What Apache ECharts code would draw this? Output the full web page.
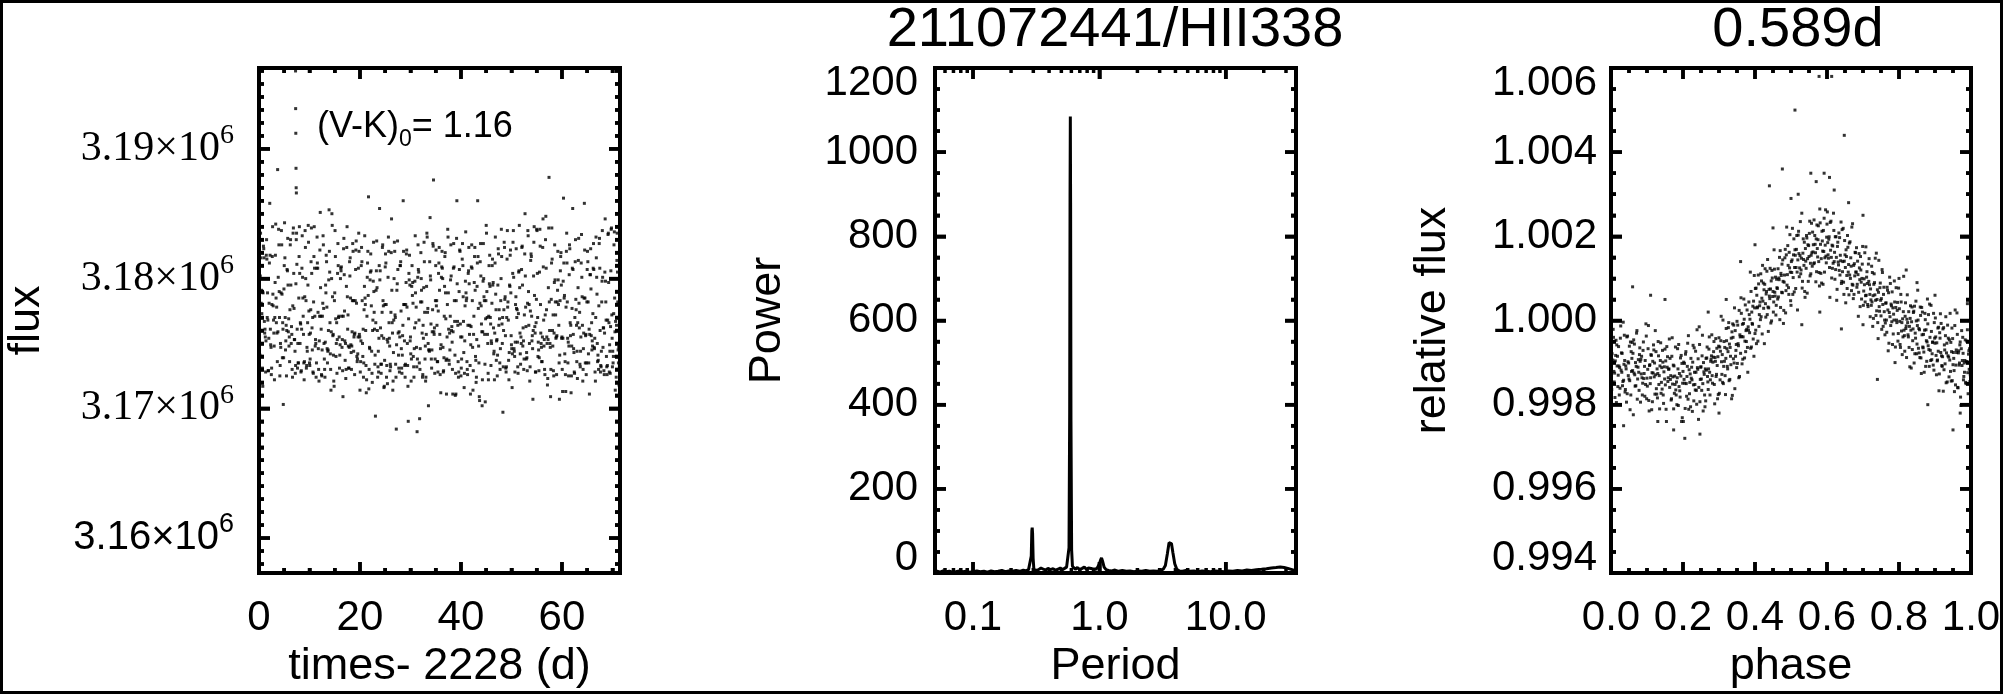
<!DOCTYPE html>
<html>
<head>
<meta charset="utf-8">
<script src="https://cdn.jsdelivr.net/npm/echarts@6/dist/echarts.min.js"></script>
<style>
html,body{margin:0;padding:0;background:#fff;}
#wrap{position:relative;width:2005px;height:694px;}
#chart{position:absolute;left:0;top:0;width:2005px;height:694px;}
#frame{position:absolute;left:0;top:0;width:1997px;height:688px;border:3px solid #000;pointer-events:none;}
</style>
</head>
<body>
<div id="wrap"><div id="chart"></div><div id="frame"></div></div>
<script>
// ---------------- DATA ----------------
const TITLE_MAIN = '211072441/HII338';
const TITLE_PERIOD = '0.589d';
const VK_VALUE = '1.16';

// Panel 1: light curve. time (d, minus 2228) and flux as (flux - 3 170 000)/100
const LC_FLUX_ZERO = 3170000;
const LC_FLUX_UNIT = 100;
const LC_TIME = [
0.06,0.19,0.31,0.44,0.56,0.69,0.81,0.94, 1.06,1.19,1.31,1.44,1.56,1.69,1.81,1.94,
2.06,2.19,2.31,2.44,2.56,2.69,2.81,2.94, 3.06,3.19,3.31,3.44,3.56,3.69,3.81,3.94,
4.06,4.19,4.31,4.44,4.56,4.69,4.81,4.94, 5.06,5.19,5.31,5.44,5.56,5.69,5.81,5.94,
6.06,6.19,6.31,6.44,6.56,6.69,6.81,6.94, 7.06,7.19,7.31,7.44,7.56,7.69,7.81,7.94,
8.06,8.19,8.31,8.44,8.56,8.69,8.81,8.94, 9.06,9.19,9.31,9.44,9.56,9.69,9.81,9.94,
10.06,10.19,10.31,10.44,10.56,10.69,10.81,10.94, 11.06,11.19,11.31,11.44,11.56,11.69,11.81,11.94,
12.06,12.19,12.31,12.44,12.56,12.69,12.81,12.94, 13.06,13.19,13.31,13.44,13.56,13.69,13.81,13.94,
14.06,14.19,14.31,14.44,14.56,14.69,14.81,14.94, 15.06,15.19,15.31,15.44,15.56,15.69,15.81,15.94,
16.06,16.19,16.31,16.44,16.56,16.69,16.81,16.94, 17.06,17.19,17.31,17.44,17.56,17.69,17.81,17.94,
18.06,18.19,18.31,18.44,18.56,18.69,18.81,18.94, 19.06,19.19,19.31,19.44,19.56,19.69,19.81,19.94,
20.06,20.19,20.31,20.44,20.56,20.69,20.81,20.94, 21.06,21.19,21.31,21.44,21.56,21.69,21.81,21.94,
22.06,22.19,22.31,22.44,22.56,22.69,22.81,22.94, 23.06,23.19,23.31,23.44,23.56,23.69,23.81,23.94,
24.06,24.19,24.31,24.44,24.56,24.69,24.81,24.94, 25.06,25.19,25.31,25.44,25.56,25.69,25.81,25.94,
26.06,26.19,26.31,26.44,26.56,26.69,26.81,26.94, 27.06,27.19,27.31,27.44,27.56,27.69,27.81,27.94,
28.06,28.19,28.31,28.44,28.56,28.69,28.81,28.94, 29.06,29.19,29.31,29.44,29.56,29.69,29.81,29.94,
30.06,30.19,30.31,30.44,30.56,30.69,30.81,30.94, 31.06,31.19,31.31,31.44,31.56,31.69,31.81,31.94,
32.06,32.19,32.31,32.44,32.56,32.69,32.81,32.94, 33.06,33.19,33.31,33.44,33.56,33.69,33.81,33.94,
34.06,34.19,34.31,34.44,34.56,34.69,34.81,34.94, 35.06,35.19,35.31,35.44,35.56,35.69,35.81,35.94,
36.06,36.19,36.31,36.44,36.56,36.69,36.81,36.94, 37.06,37.19,37.31,37.44,37.56,37.69,37.81,37.94,
38.06,38.19,38.31,38.44,38.56,38.69,38.81,38.94, 39.06,39.19,39.31,39.44,39.56,39.69,39.81,39.94,
40.06,40.19,40.31,40.44,40.56,40.69,40.81,40.94, 41.06,41.19,41.31,41.44,41.56,41.69,41.81,41.94,
42.06,42.19,42.31,42.44,42.56,42.69,42.81,42.94, 43.06,43.19,43.31,43.44,43.56,43.69,43.81,43.94,
44.06,44.19,44.31,44.44,44.56,44.69,44.81,44.94, 45.06,45.19,45.31,45.44,45.56,45.69,45.81,45.94,
46.06,46.19,46.31,46.44,46.56,46.69,46.81,46.94, 47.06,47.19,47.31,47.44,47.56,47.69,47.81,47.94,
48.06,48.19,48.31,48.44,48.56,48.69,48.81,48.94, 49.06,49.19,49.31,49.44,49.56,49.69,49.81,49.94,
50.06,50.19,50.31,50.44,50.56,50.69,50.81,50.94, 51.06,51.19,51.31,51.44,51.56,51.69,51.81,51.94,
52.06,52.19,52.31,52.44,52.56,52.69,52.81,52.94, 53.06,53.19,53.31,53.44,53.56,53.69,53.81,53.94,
54.06,54.19,54.31,54.44,54.56,54.69,54.81,54.94, 55.06,55.19,55.31,55.44,55.56,55.69,55.81,55.94,
56.06,56.19,56.31,56.44,56.56,56.69,56.81,56.94, 57.06,57.19,57.31,57.44,57.56,57.69,57.81,57.94,
58.06,58.19,58.31,58.44,58.56,58.69,58.81,58.94, 59.06,59.19,59.31,59.44,59.56,59.69,59.81,59.94,
60.06,60.19,60.31,60.44,60.56,60.69,60.81,60.94, 61.06,61.19,61.31,61.44,61.56,61.69,61.81,61.94,
62.06,62.19,62.31,62.44,62.56,62.69,62.81,62.94, 63.06,63.19,63.31,63.44,63.56,63.69,63.81,63.94,
64.06,64.19,64.31,64.44,64.56,64.69,64.81,64.94, 65.06,65.19,65.31,65.44,65.56,65.69,65.81,65.94,
66.06,66.19,66.31,66.44,66.56,66.69,66.81,66.94, 67.06,67.19,67.31,67.44,67.56,67.69,67.81,67.94,
68.06,68.19,68.31,68.44,68.56,68.69,68.81,68.94, 69.06,69.19,69.31,69.44,69.56,69.69,69.81,69.94,
70.06,70.19,70.31,70.44,70.56,70.69,70.81,70.94, 71.06,71.19,71.31,71.44,
7.24,7.26,7.29,7.33,7.36,7.40,
0.00,0.13,0.25,0.38,0.50,0.63,0.75,0.88, 1.00,1.13,1.25,1.38,1.50,1.63,1.75,1.88,
2.00,2.13,2.25,2.38,2.50,2.63,2.75,2.88, 3.00,3.13,3.25,3.38,3.50,3.63,3.75,3.88,
4.00,4.13,4.25,4.38,4.50,4.63,4.75,4.88, 5.00,5.13,5.25,5.38,5.50,5.63,5.75,5.88,
6.00,6.13,6.25,6.38,6.50,6.63,6.75,6.88, 7.00,7.13,7.25,7.38,7.50,7.63,7.75,7.88,
8.00,8.13,8.25,8.38,8.50,8.63,8.75,8.88, 9.00,9.13,9.25,9.38,9.50,9.63,9.75,9.88,
10.00,10.13,10.25,10.38,10.50,10.63,10.75,10.88, 11.00,11.13,11.25,11.38,11.50,11.63,11.75,11.88,
12.00,12.13,12.25,12.38,12.50,12.63,12.75,12.88, 13.00,13.13,13.25,13.38,13.50,13.63,13.75,13.88,
14.00,14.13,14.25,14.38,14.50,14.63,14.75,14.88, 15.00,15.13,15.25,15.38,15.50,15.63,15.75,15.88,
16.00,16.13,16.25,16.38,16.50,16.63,16.75,16.88, 17.00,17.13,17.25,17.38,17.50,17.63,17.75,17.88,
18.00,18.13,18.25,18.38,18.50,18.63,18.75,18.88, 19.00,19.13,19.25,19.38,19.50,19.63,19.75,19.88,
20.00,20.13,20.25,20.38,20.50,20.63,20.75,20.88, 21.00,21.13,21.25,21.38,21.50,21.63,21.75,21.88,
22.00,22.13,22.25,22.38,22.50,22.63,22.75,22.88, 23.00,23.13,23.25,23.38,23.50,23.63,23.75,23.88,
24.00,24.13,24.25,24.38,24.50,24.63,24.75,24.88, 25.00,25.13,25.25,25.38,25.50,25.63,25.75,25.88,
26.00,26.13,26.25,26.38,26.50,26.63,26.75,26.88, 27.00,27.13,27.25,27.38,27.50,27.63,27.75,27.88,
28.00,28.13,28.25,28.38,28.50,28.63,28.75,28.88, 29.00,29.13,29.25,29.38,29.50,29.63,29.75,29.88,
30.00,30.13,30.25,30.38,30.50,30.63,30.75,30.88, 31.00,31.13,31.25,31.38,31.50,31.63,31.75,31.88,
32.00,32.13,32.25,32.38,32.50,32.63,32.75,32.88, 33.00,33.13,33.25,33.38,33.50,33.63,33.75,33.88,
34.00,34.13,34.25,34.38,34.50,34.63,34.75,34.88, 35.00,35.13,35.25,35.38,35.50,35.63,35.75,35.88,
36.00,36.13,36.25,36.38,36.50,36.63,36.75,36.88, 37.00,37.13,37.25,37.38,37.50,37.63,37.75,37.88,
38.00,38.13,38.25,38.38,38.50,38.63,38.75,38.88, 39.00,39.13,39.25,39.38,39.50,39.63,39.75,39.88,
40.00,40.13,40.25,40.38,40.50,40.63,40.75,40.88, 41.00,41.13,41.25,41.38,41.50,41.63,41.75,41.88,
42.00,42.13,42.25,42.38,42.50,42.63,42.75,42.88, 43.00,43.13,43.25,43.38,43.50,43.63,43.75,43.88,
44.00,44.13,44.25,44.38,44.50,44.63,44.75,44.88, 45.00,45.13,45.25,45.38,45.50,45.63,45.75,45.88,
46.00,46.13,46.25,46.38,46.50,46.63,46.75,46.88, 47.00,47.13,47.25,47.38,47.50,47.63,47.75,47.88,
48.00,48.13,48.25,48.38,48.50,48.63,48.75,48.88, 49.00,49.13,49.25,49.38,49.50,49.63,49.75,49.88,
50.00,50.13,50.25,50.38,50.50,50.63,50.75,50.88, 51.00,51.13,51.25,51.38,51.50,51.63,51.75,51.88,
52.00,52.13,52.25,52.38,52.50,52.63,52.75,52.88, 53.00,53.13,53.25,53.38,53.50,53.63,53.75,53.88,
54.00,54.13,54.25,54.38,54.50,54.63,54.75,54.88, 55.00,55.13,55.25,55.38,55.50,55.63,55.75,55.88,
56.00,56.13,56.25,56.38,56.50,56.63,56.75,56.88, 57.00,57.13,57.25,57.38,57.50,57.63,57.75,57.88,
58.00,58.13,58.25,58.38,58.50,58.63,58.75,58.88, 59.00,59.13,59.25,59.38,59.50,59.63,59.75,59.88,
60.00,60.13,60.25,60.38,60.50,60.63,60.75,60.88, 61.00,61.13,61.25,61.38,61.50,61.63,61.75,61.88,
62.00,62.13,62.25,62.38,62.50,62.63,62.75,62.88, 63.00,63.13,63.25,63.38,63.50,63.63,63.75,63.88,
64.00,64.13,64.25,64.38,64.50,64.63,64.75,64.88, 65.00,65.13,65.25,65.38,65.50,65.63,65.75,65.88,
66.00,66.13,66.25,66.38,66.50,66.63,66.75,66.88, 67.00,67.13,67.25,67.38,67.50,67.63,67.75,67.88,
68.00,68.13,68.25,68.38,68.50,68.63,68.75,68.88, 69.00,69.13,69.25,69.38,69.50,69.63,69.75,69.88,
70.00,70.13,70.25,70.38,70.50,70.63,70.75,70.88, 71.00,71.13,71.25,71.38
];
const LC_FLUX = [
49,41,135,81,73,31,89,123, 67,61,28,118,115,89,29,54,
112,118,49,26,80,140,79,58, 22,97,142,66,58,184,101,126,
70,33,47,137,88,66,3,92, 143,70,52,25,107,131,59,48,
36,126,95,63,30,79,139,77, 53,27,96,135,61,50,35,117,
104,66,28,61,133,85,57,22, 86,124,83,33,44,95,128,57,
33,58,113,104,45,28,82,140, 71,53,24,108,112,74,30,52,
122,93,61,25,71,133,77,38, 24,95,118,78,35,45,99,121,
66,30,59,150,86,57,21,83, 137,69,50,27,104,110,71,31,
49,108,109,47,29,71,131,75, 37,23,94,140,61,48,31,113,
116,49,30,59,127,83,55,26, 83,122,81,36,42,108,121,55,
28,52,124,83,40,24,76,133, 80,33,22,101,121,163,30,46,
105,106,44,20,68,128,74,34, -6,91,129,60,32,28,110,99,
62,27,56,124,83,54,17,80, 119,80,33,19,101,121,54,29,
32,120,91,58,21,68,128,72, 34,-16,91,129,58,31,28,110,
113,46,27,56,160,80,52,24, 80,119,78,33,-10,104,118,52,
42,38,110,97,40,24,62,133, 66,47,-18,101,107,68,-8,46,
120,91,58,26,54,128,74,48, 24,94,132,77,2,45,113,102,
65,31,59,127,176,57,27,83, 122,83,36,28,104,124,57,46,
49,109,108,47,29,71,117,89, 37,38,80,132,61,34,45,99,
102,63,30,59,127,83,41,27, 83,160,67,36,28,107,121,55,
31,55,127,86,43,27,79,136, 83,36,26,104,124,57,33,49,
109,108,47,29,71,117,91,37, 24,94,160,77,35,6,113,102,
65,2,59,127,86,57,5,83, 135,70,50,22,110,118,70,33,
50,110,95,62,44,58,132,76, 52,25,95,119,76,35,46,100,
117,50,-3,60,128,84,56,28, 70,137,82,37,43,94,122,56,
46,42,128,101,44,28,80,123, 70,51,27,105,141,58,34,50,
124,95,62,30,72,150,78,38, 39,81,133,64,50,32,114,117,
52,46,60,128,87,58,28,84, 137,70,51,29,105,125,58,47,
36,124,109,48,30,72,148,76, 50,23,93,178,60,47,30,112,
115,48,29,58,126,82,54,26, 82,121,80,35,41,106,120,54,
30,54,162,85,42,26,78,135, 82,35,25,103,123,56,12,48,
108,107,46,28,70,130,76,36, 23,93,131,62,34,44,112,101,
64,30,58,158,85,56,26,82, 121,82,35,11,103,123,56,45,
48,108,107,46,28,70,116,88, 36,37,79,131,60,33,44,98,
101,62,29,58,146,82,40,26, 68,135,66,49,27,106,139,54,
44,40,126,85,14,40,64,135, 82,35,18,103,
260,231,212,185,170,166,
59,17,102,116,91,40,17,125, 116,58,55,52,130,70,68,29,
81,158,61,47,31,117,88,68, 48,70,118,85,78,36,59,138,
90,25,50,89,126,39,61,39, 110,116,45,64,60,106,95,69,
55,76,130,50,57,24,135,104, 53,44,33,130,111,31,35,85,
140,50,65,29,108,101,71,35, 36,137,100,31,47,66,141,75,
35,38,76,139,62,70,27,117, 108,48,50,35,132,108,46,21,
71,151,71,26,45,81,126,50, 30,51,89,113,46,44,60,153,
105,42,14,100,141,56,41,17, 89,117,40,66,53,127,70,55,
41,100,106,71,53,9,123,103, 52,50,30,124,86,72,31,47,
102,85,43,48,83,121,44,57, 58,107,129,40,38,55,135,57,
14,36,110,113,50,61,35,94, 85,60,12,71,112,87,15,47,
99,119,79,27,60,98,90,61, 41,66,106,93,24,44,54,154,
106,34,34,74,126,79,16,37, 109,112,24,53,51,132,66,48,
34,74,146,66,14,43,100,121, 70,24,49,96,107,41,59,55,
110,75,31,41,64,121,80,33, 34,97,122,50,17,69,99,95,
55,21,94,87,81,32,46,98, 89,78,32,38,126,105,35,30,
82,100,82,24,64,93,113,38, 21,57,135,74,50,45,44,147,
99,38,45,76,125,59,62,38, 110,79,64,36,75,112,91,26,
12,101,121,100,28,39,94,120, 69,11,55,138,89,37,58,71,
126,60,51,11,108,109,67,10, 11,131,96,64,24,90,122,65,
25,38,115,110,67,16,52,98, 89,85,30,64,106,96,64,11,
63,126,83,14,57,97,124,40, 20,53,112,117,48,9,81,127,
79,59,22,98,100,83,34,69, 141,90,57,27,71,96,94,65,
52,81,115,97,42,22,112,88, 37,53,41,123,64,69,30,83,
138,65,70,32,76,124,86,31, 32,115,78,68,22,95,118,89,
49,16,104,137,46,40,51,86, 77,76,32,73,106,93,42,55,
107,125,48,52,38,119,102,63, 43,29,137,90,80,21,75,119,
71,56,7,102,140,63,28,66, 138,104,40,45,39,138,80,50,
36,55,146,68,53,26,130,108, 55,18,53,139,82,50,9,84,
139,60,72,25,97,99,72,55, 56,91,99,64,7,83,117,95,
55,13,98,112,87,36,13,121, 112,54,51,48,126,66,64,25,
77,154,57,43,27,113,84,64, 44,66,114,81,74,32,55,134,
86,21,46,85,122,35,57,35, 107,113,42,61,57,103,92,66,
52,73,127,47,54,21,132,101, 50,41,30,127,108,28,32,82,
137,47,62,26,105,98,68,32, 33,134,97,28,44,63,138,72,
32,35,73,136,59,67,24,114, 105,45,47,32
];

// Panel 2: periodogram (period in days, power)
const PERIOD = [
0.050,0.052,0.055,0.058,0.061,0.065,0.069,0.073,0.078,0.083,0.088,0.094,0.100,0.107,0.114,0.122,
0.130,0.139,0.148,0.158,0.169,0.180,0.192,0.205,0.219,0.234,0.250,0.262,0.275,0.284,0.289,0.292,
0.294,0.296,0.299,0.303,0.315,0.330,0.345,0.360,0.375,0.392,0.410,0.430,0.450,0.470,0.490,0.510,
0.530,0.550,0.565,0.575,0.582,0.586,0.589,0.592,0.596,0.603,0.612,0.625,0.645,0.670,0.700,0.730,
0.760,0.790,0.820,0.850,0.880,0.910,0.940,0.970,1.000,1.020,1.040,1.060,1.090,1.130,1.180,1.250,
1.330,1.420,1.520,1.630,1.750,1.880,2.020,2.170,2.330,2.500,2.680,2.880,3.050,3.200,3.330,3.450,
3.560,3.640,3.720,3.820,3.950,4.100,4.300,4.550,4.850,5.200,5.600,6.000,6.500,7.000,7.600,8.200,
8.900,9.700,10.50,11.40,12.40,13.50,14.70,16.00,17.50,19.20,21.00,23.00,25.00,27.00,29.00,31.00,
33.50,36.00
];
const POWER = [
3,4,2,5,3,4,2,3,5,3,4,2,3,5,3,4,
2,5,3,4,6,3,5,4,6,4,7,5,8,10,40,100,
108,95,35,9,6,8,12,9,7,11,8,10,7,9,12,8,
11,14,18,60,380,900,1085,880,360,55,16,12,9,13,8,11,
14,9,12,8,10,13,9,14,22,30,36,28,14,8,6,5,
7,4,6,4,5,3,5,4,6,4,5,4,6,9,18,45,
72,76,70,48,22,9,5,4,6,4,5,3,5,4,3,5,
4,3,5,4,6,5,7,6,8,9,10,12,13,14,13,11,
8,5
];

// Panel 3: phased light curve. phase and (relative flux - 1) in units of 1e-4
const PHASE = [
0.001,0.004,0.005,0.007,0.010,0.011,0.013,0.016,0.017,0.019,
0.021,0.024,0.025,0.027,0.030,0.031,0.033,0.036,0.037,0.039,
0.041,0.044,0.045,0.047,0.050,0.051,0.053,0.056,0.057,0.059,
0.061,0.064,0.065,0.067,0.070,0.071,0.073,0.076,0.077,0.079,
0.081,0.084,0.085,0.087,0.090,0.091,0.093,0.096,0.097,0.099,
0.101,0.104,0.105,0.107,0.110,0.111,0.113,0.116,0.117,0.119,
0.121,0.124,0.125,0.127,0.130,0.131,0.133,0.136,0.137,0.139,
0.141,0.144,0.145,0.147,0.150,0.151,0.153,0.156,0.157,0.159,
0.161,0.164,0.165,0.167,0.170,0.171,0.173,0.176,0.177,0.179,
0.181,0.184,0.185,0.187,0.190,0.191,0.193,0.196,0.197,0.199,
0.201,0.204,0.205,0.207,0.210,0.211,0.213,0.216,0.217,0.219,
0.221,0.224,0.225,0.227,0.230,0.231,0.233,0.236,0.237,0.239,
0.241,0.244,0.245,0.247,0.250,0.251,0.253,0.256,0.257,0.259,
0.261,0.264,0.265,0.267,0.270,0.271,0.273,0.276,0.277,0.279,
0.281,0.284,0.285,0.287,0.290,0.291,0.293,0.296,0.297,0.299,
0.301,0.304,0.305,0.307,0.310,0.311,0.313,0.316,0.317,0.319,
0.321,0.324,0.325,0.327,0.330,0.331,0.333,0.336,0.337,0.339,
0.341,0.344,0.345,0.347,0.350,0.351,0.353,0.356,0.357,0.359,
0.361,0.364,0.365,0.367,0.370,0.371,0.373,0.376,0.377,0.379,
0.381,0.384,0.385,0.387,0.390,0.391,0.393,0.396,0.397,0.399,
0.401,0.404,0.405,0.407,0.410,0.411,0.413,0.416,0.417,0.419,
0.421,0.424,0.425,0.427,0.430,0.431,0.433,0.436,0.437,0.439,
0.441,0.444,0.445,0.447,0.450,0.451,0.453,0.456,0.457,0.459,
0.461,0.464,0.465,0.467,0.470,0.471,0.473,0.476,0.477,0.479,
0.481,0.484,0.485,0.487,0.490,0.491,0.493,0.496,0.497,0.499,
0.501,0.504,0.505,0.507,0.510,0.511,0.513,0.516,0.517,0.519,
0.521,0.524,0.525,0.527,0.530,0.531,0.533,0.536,0.537,0.539,
0.541,0.544,0.545,0.547,0.550,0.551,0.553,0.556,0.557,0.559,
0.561,0.564,0.565,0.567,0.570,0.571,0.573,0.576,0.577,0.579,
0.581,0.584,0.585,0.587,0.590,0.591,0.593,0.596,0.597,0.599,
0.601,0.604,0.605,0.607,0.610,0.611,0.613,0.616,0.617,0.619,
0.621,0.624,0.625,0.627,0.630,0.631,0.633,0.636,0.637,0.639,
0.641,0.644,0.645,0.647,0.650,0.651,0.653,0.656,0.657,0.659,
0.661,0.664,0.665,0.667,0.670,0.671,0.673,0.676,0.677,0.679,
0.681,0.684,0.685,0.687,0.690,0.691,0.693,0.696,0.697,0.699,
0.701,0.704,0.705,0.707,0.710,0.711,0.713,0.716,0.717,0.719,
0.721,0.724,0.725,0.727,0.730,0.731,0.733,0.736,0.737,0.739,
0.741,0.744,0.745,0.747,0.750,0.751,0.753,0.756,0.757,0.759,
0.761,0.764,0.765,0.767,0.770,0.771,0.773,0.776,0.777,0.779,
0.781,0.784,0.785,0.787,0.790,0.791,0.793,0.796,0.797,0.799,
0.801,0.804,0.805,0.807,0.810,0.811,0.813,0.816,0.817,0.819,
0.821,0.824,0.825,0.827,0.830,0.831,0.833,0.836,0.837,0.839,
0.841,0.844,0.845,0.847,0.850,0.851,0.853,0.856,0.857,0.859,
0.861,0.864,0.865,0.867,0.870,0.871,0.873,0.876,0.877,0.879,
0.881,0.884,0.885,0.887,0.890,0.891,0.893,0.896,0.897,0.899,
0.901,0.904,0.905,0.907,0.910,0.911,0.913,0.916,0.917,0.919,
0.921,0.924,0.925,0.927,0.930,0.931,0.933,0.936,0.937,0.939,
0.941,0.944,0.945,0.947,0.950,0.951,0.953,0.956,0.957,0.959,
0.961,0.964,0.965,0.967,0.970,0.971,0.973,0.976,0.977,0.979,
0.981,0.984,0.985,0.987,0.990,0.991,0.993,0.996,0.997,0.999,
0.511,0.578,0.613,0.648,0.476,0.440,0.740,0.950,0.247,0.174,
0.205,0.555,0.592,0.607,0.570,0.520,0.620,0.660,0.700,0.500,
0.450,0.400,0.360,0.060,0.110,0.150,0.270,0.320,0.850,0.900,
0.990,0.820,0.035,0.130,0.300,0.880,0.970,0.530,0.580,0.640,
0.002,0.003,0.006,0.008,0.009,0.012,0.014,0.015,0.018,0.020,
0.022,0.023,0.026,0.028,0.029,0.032,0.034,0.035,0.038,0.040,
0.042,0.043,0.046,0.048,0.049,0.052,0.054,0.055,0.058,0.060,
0.062,0.063,0.066,0.068,0.069,0.072,0.074,0.075,0.078,0.080,
0.082,0.083,0.086,0.088,0.089,0.092,0.094,0.095,0.098,0.100,
0.102,0.103,0.106,0.108,0.109,0.112,0.114,0.115,0.118,0.120,
0.122,0.123,0.126,0.128,0.129,0.132,0.134,0.135,0.138,0.140,
0.142,0.143,0.146,0.148,0.149,0.152,0.154,0.155,0.158,0.160,
0.162,0.163,0.166,0.168,0.169,0.172,0.174,0.175,0.178,0.180,
0.182,0.183,0.186,0.188,0.189,0.192,0.194,0.195,0.198,0.200,
0.202,0.203,0.206,0.208,0.209,0.212,0.214,0.215,0.218,0.220,
0.222,0.223,0.226,0.228,0.229,0.232,0.234,0.235,0.238,0.240,
0.242,0.243,0.246,0.248,0.249,0.252,0.254,0.255,0.258,0.260,
0.262,0.263,0.266,0.268,0.269,0.272,0.274,0.275,0.278,0.280,
0.282,0.283,0.286,0.288,0.289,0.292,0.294,0.295,0.298,0.300,
0.302,0.303,0.306,0.308,0.309,0.312,0.314,0.315,0.318,0.320,
0.322,0.323,0.326,0.328,0.329,0.332,0.334,0.335,0.338,0.340,
0.342,0.343,0.346,0.348,0.349,0.352,0.354,0.355,0.358,0.360,
0.362,0.363,0.366,0.368,0.369,0.372,0.374,0.375,0.378,0.380,
0.382,0.383,0.386,0.388,0.389,0.392,0.394,0.395,0.398,0.400,
0.402,0.403,0.406,0.408,0.409,0.412,0.414,0.415,0.418,0.420,
0.422,0.423,0.426,0.428,0.429,0.432,0.434,0.435,0.438,0.440,
0.442,0.443,0.446,0.448,0.449,0.452,0.454,0.455,0.458,0.460,
0.462,0.463,0.466,0.468,0.469,0.472,0.474,0.475,0.478,0.480,
0.482,0.483,0.486,0.488,0.489,0.492,0.494,0.495,0.498,0.500,
0.502,0.503,0.506,0.508,0.509,0.512,0.514,0.515,0.518,0.520,
0.522,0.523,0.526,0.528,0.529,0.532,0.534,0.535,0.538,0.540,
0.542,0.543,0.546,0.548,0.549,0.552,0.554,0.555,0.558,0.560,
0.562,0.563,0.566,0.568,0.569,0.572,0.574,0.575,0.578,0.580,
0.582,0.583,0.586,0.588,0.589,0.592,0.594,0.595,0.598,0.600,
0.602,0.603,0.606,0.608,0.609,0.612,0.614,0.615,0.618,0.620,
0.622,0.623,0.626,0.628,0.629,0.632,0.634,0.635,0.638,0.640,
0.642,0.643,0.646,0.648,0.649,0.652,0.654,0.655,0.658,0.660,
0.662,0.663,0.666,0.668,0.669,0.672,0.674,0.675,0.678,0.680,
0.682,0.683,0.686,0.688,0.689,0.692,0.694,0.695,0.698,0.700,
0.702,0.703,0.706,0.708,0.709,0.712,0.714,0.715,0.718,0.720,
0.722,0.723,0.726,0.728,0.729,0.732,0.734,0.735,0.738,0.740,
0.742,0.743,0.746,0.748,0.749,0.752,0.754,0.755,0.758,0.760,
0.762,0.763,0.766,0.768,0.769,0.772,0.774,0.775,0.778,0.780,
0.782,0.783,0.786,0.788,0.789,0.792,0.794,0.795,0.798,0.800,
0.802,0.803,0.806,0.808,0.809,0.812,0.814,0.815,0.818,0.820,
0.822,0.823,0.826,0.828,0.829,0.832,0.834,0.835,0.838,0.840,
0.842,0.843,0.846,0.848,0.849,0.852,0.854,0.855,0.858,0.860,
0.862,0.863,0.866,0.868,0.869,0.872,0.874,0.875,0.878,0.880,
0.882,0.883,0.886,0.888,0.889,0.892,0.894,0.895,0.898,0.900,
0.902,0.903,0.906,0.908,0.909,0.912,0.914,0.915,0.918,0.920,
0.922,0.923,0.926,0.928,0.929,0.932,0.934,0.935,0.938,0.940,
0.942,0.943,0.946,0.948,0.949,0.952,0.954,0.955,0.958,0.960,
0.962,0.963,0.966,0.968,0.969,0.972,0.974,0.975,0.978,0.980,
0.982,0.983,0.986,0.988,0.989,0.992,0.994,0.995,0.998,1.000
];
const REL_FLUX_DEV = [
-7.1,-14.9,-9.4,-4.0,-12.5,-18.3,-8.3,-5.8,-10.8,-15.7,
-6.2,-11.2,-16.1,-1.3,-12.3,-7.8,-14.5,-10.4,-3.5,-17.0,
-10.8,-3.9,-17.4,-9.8,-13.9,-6.1,-21.2,-7.4,-12.1,-5.2,
-7.8,-12.5,-5.6,-15.6,-10.9,-3.0,-18.7,-9.3,-12.3,-8.1,
-9.7,-12.7,-8.5,-17.7,-5.1,-13.8,-10.9,-15.2,-0.8,-18.6,
-15.6,-1.2,-19.0,-10.7,-13.6,-8.1,-21.2,-9.7,-12.5,-7.0,
-10.1,-12.9,-7.4,-17.5,-12.6,-5.0,-15.2,-10.8,-9.5,-17.3,
-11.2,-9.9,-17.7,-12.2,-6.8,-15.3,-21.1,-11.1,-8.6,-13.6,
-11.5,-9.0,-14.0,-18.9,-4.1,-15.1,-10.6,-17.3,-13.2,-6.3,
-17.7,-13.6,-6.7,-20.2,-12.6,-16.7,-8.9,-24.0,-10.2,-14.9,
-24.0,-10.2,-14.9,-8.0,-18.0,-13.3,-5.4,-21.1,-11.7,-14.7,
-20.5,-11.1,-14.1,-9.9,-19.1,-6.5,-15.2,-12.3,-16.6,-2.2,
-11.6,-15.9,-1.5,-19.3,-11.0,-13.9,-8.4,-21.5,-10.0,-12.8,
-20.5,-9.0,-11.8,-6.3,-16.4,-11.5,-3.9,-14.1,-9.7,-8.4,
-13.1,-8.7,-7.4,-15.2,-9.7,-4.3,-12.8,-18.6,-8.6,-6.1,
-17.3,-7.3,-4.8,-9.8,-14.7,0.1,-10.9,-6.4,-13.1,-9.0,
-4.8,-11.5,-7.4,-0.5,-14.0,-6.4,-10.5,-2.7,-17.8,-4.0,
-1.1,-16.2,-2.4,-7.1,-0.2,-10.2,-5.5,2.4,-13.3,-3.9,
5.4,-10.3,-0.9,-3.9,0.3,-8.9,3.7,-5.0,-2.1,-6.4,
-1.5,1.4,-2.9,11.5,-6.3,2.0,-0.9,4.6,-8.5,3.0,
7.6,-5.5,6.0,3.2,8.7,-1.4,3.5,11.1,0.9,5.3,
13.1,2.9,7.3,8.6,0.8,6.3,11.7,3.2,-2.6,7.4,
5.2,-0.6,9.4,11.9,6.9,2.0,16.8,5.8,10.3,3.6,
7.8,12.3,5.6,9.7,16.6,3.1,10.7,6.6,14.4,-0.7,
9.1,16.9,1.8,15.6,10.9,17.8,7.8,12.5,20.4,4.7,
14.0,21.9,6.2,15.6,12.6,16.8,7.6,20.2,11.5,14.4,
21.2,12.5,15.4,11.1,25.5,7.7,16.0,13.1,18.6,5.5,
14.1,19.6,6.5,18.0,15.2,20.7,10.6,15.5,23.1,12.9,
16.3,23.9,13.7,18.1,19.4,11.6,17.1,22.5,14.0,8.2,
23.2,14.7,8.9,18.9,21.4,16.4,11.5,26.3,15.3,19.8,
25.8,14.8,19.3,12.6,16.7,23.6,10.1,17.7,13.6,21.4,
16.2,12.1,19.9,4.8,18.6,13.9,20.8,10.8,15.5,23.4,
9.3,14.0,21.9,6.2,15.6,12.6,16.8,7.6,20.2,11.5,
6.1,18.7,10.0,12.9,8.6,23.0,5.2,13.5,10.6,16.1,
11.5,8.6,14.1,1.0,12.5,9.7,15.2,5.1,10.0,17.6,
3.6,8.5,16.1,5.9,10.3,11.6,3.8,9.3,14.7,6.2,
7.5,12.9,4.4,-1.4,8.6,11.1,6.1,1.2,16.0,5.0,
-0.5,14.3,3.3,7.8,1.1,5.2,12.1,-1.4,6.2,2.1,
-3.4,4.2,0.1,7.9,-7.2,6.6,1.9,8.8,-1.2,3.5,
6.8,-3.2,1.5,9.4,-6.3,3.1,0.1,4.3,-4.9,7.7,
2.8,-6.4,6.2,-2.5,0.4,-3.9,10.5,-7.3,1.0,-1.9,
-8.8,-0.5,-3.4,2.1,-11.0,0.5,-2.3,3.2,-6.9,-2.0,
2.2,-7.9,-3.0,4.6,-5.6,-1.2,0.1,-7.7,-2.2,3.2,
-8.9,-3.4,2.0,-6.5,-12.3,-2.3,0.2,-4.8,-9.7,5.1,
-6.0,-10.9,3.9,-7.1,-2.6,-9.3,-5.2,1.7,-11.8,-4.2,
0.6,-12.9,-5.3,-9.4,-1.6,-16.7,-2.9,-7.6,-0.7,-10.7,
-8.6,-1.7,-11.7,-7.0,0.9,-14.8,-5.4,-8.4,-4.2,-13.4,
-9.4,-5.2,-14.4,-1.8,-10.5,-7.6,-11.9,2.5,-15.3,-7.0,
1.8,-16.0,-7.7,-10.6,-5.1,-18.2,-6.7,-9.5,-4.0,-14.1,
-10.1,-4.6,-14.7,-9.8,-2.2,-12.4,-8.0,-6.7,-14.5,-9.0,
50,58,58,44,36,32,-14,-26,-27,-26,
-28,35,35,34,33,30,31,28,25,29,
22,18,14,8,6,5,2,5,9,6,
4,12,-25,-24,-22,-20,-22,-1,2,-2,
-16.4,-7.9,-2.1,-12.1,-14.6,-9.6,-4.7,-19.5,-8.5,-13.0,
-10.8,-17.7,-4.2,-11.8,-7.7,-15.5,-0.4,-14.2,-9.5,-16.4,
-11.5,-19.4,-3.7,-13.1,-10.1,-14.3,-5.1,-17.7,-9.0,-11.9,
-22.4,-4.6,-12.9,-10.0,-15.5,-2.4,-13.9,-11.1,-16.6,-6.5,
-19.4,-9.2,-13.6,-14.9,-7.1,-12.6,-18.0,-9.5,-3.7,-13.7,
-11.6,-6.7,-21.5,-10.5,-15.0,-8.3,-12.4,-19.3,-5.8,-13.4,
-17.5,-2.4,-16.2,-11.5,-18.4,-8.4,-13.1,-21.0,-5.3,-14.7,
-16.3,-7.1,-19.7,-11.0,-13.9,-9.6,-24.0,-6.2,-14.5,-11.6,
-4.4,-15.9,-13.1,-18.6,-8.5,-13.4,-21.0,-10.8,-15.2,-16.5,
-14.6,-20.0,-11.5,-5.7,-15.7,-18.2,-13.2,-8.3,-23.1,-12.1,
-9.9,-14.0,-20.9,-7.4,-15.0,-10.9,-18.7,-3.6,-17.4,-12.7,
-9.0,-13.7,-21.6,-5.9,-15.3,-12.3,-16.5,-7.3,-19.9,-11.2,
-9.1,-23.5,-5.7,-14.0,-11.1,-16.6,-3.5,-15.0,-12.2,-17.7,
-11.5,-19.1,-8.9,-13.3,-14.6,-6.8,-12.3,-17.7,-9.2,-3.4,
-14.9,-9.9,-5.0,-19.8,-8.8,-13.3,-6.6,-10.7,-17.6,-4.1,
-6.3,-14.1,1.0,-12.8,-8.1,-15.0,-5.0,-9.7,-17.6,-1.9,
-6.7,-10.9,-1.7,-14.3,-5.6,-8.5,-4.2,-18.6,-0.8,-9.1,
-10.1,3.0,-8.5,-5.7,-11.2,-1.1,-6.0,-13.6,-3.4,-7.8,
1.7,-3.8,-9.2,-0.7,5.1,-4.9,-7.4,-2.4,2.5,-12.3,
-2.3,4.4,0.3,-6.6,6.9,-0.7,3.4,-4.4,10.7,-3.1,
-2.3,7.7,3.0,-4.9,10.8,1.4,4.4,0.2,9.4,-3.2,
4.6,8.9,-5.5,12.3,4.0,6.9,1.4,14.5,3.0,5.8,
12.4,7.5,-0.1,10.1,5.7,4.4,12.2,6.7,1.3,9.8,
7.6,5.1,10.1,15.0,0.2,11.2,6.7,13.4,9.3,2.4,
10.8,14.9,7.1,22.2,8.4,13.1,6.2,16.2,11.5,3.6,
11.4,14.4,10.2,19.4,6.8,15.5,12.6,16.9,2.5,20.3,
15.9,10.4,23.5,12.0,14.8,9.3,19.4,14.5,6.9,17.1,
12.4,20.2,14.7,9.3,17.8,23.6,13.6,11.1,16.1,21.0,
18.0,13.5,20.2,16.1,9.2,22.7,15.1,19.2,11.4,26.5,
18.1,11.2,21.2,16.5,8.6,24.3,14.9,17.9,13.7,22.9,
18.5,15.6,19.9,5.5,23.3,15.0,17.9,12.4,25.5,14.0,
9.8,19.9,15.0,7.4,17.6,13.2,11.9,19.7,14.2,8.8,
21.6,11.6,9.1,14.1,19.0,4.2,15.2,10.7,17.4,13.3,
18.4,10.8,14.9,7.1,22.2,8.4,13.1,6.2,16.2,11.5,
17.3,7.9,10.9,6.7,15.9,3.3,12.0,9.1,13.4,-1.0,
7.0,9.9,4.4,17.5,6.0,8.8,3.3,13.4,8.5,0.9,
4.9,3.6,11.4,5.9,0.5,9.0,14.8,4.8,2.3,7.3,
-4.3,6.7,2.2,8.9,4.8,-2.1,11.4,3.8,7.9,0.1,
-0.6,4.1,-2.8,7.2,2.5,-5.4,10.3,0.9,3.9,-0.3,
-5.7,3.0,0.1,4.4,-10.0,7.8,-0.5,2.4,-3.1,10.0,
-0.2,-5.7,4.4,-0.5,-8.1,2.1,-2.3,-3.6,4.2,-1.3,
0.3,6.1,-3.9,-6.4,-1.4,3.5,-11.3,-0.3,-4.8,1.9,
-10.1,3.4,-4.2,-0.1,-7.9,7.2,-6.6,-1.9,-8.8,1.2,
-12.6,3.1,-6.3,-3.3,-7.5,1.7,-10.9,-2.2,-5.1,-0.8,
1.4,-6.9,-4.0,-9.5,3.6,-7.9,-5.1,-10.6,-0.5,-5.4,
-3.9,-8.3,-9.6,-1.8,-7.3,-12.7,-4.2,1.6,-8.4,-10.9,
-2.0,-16.8,-5.8,-10.3,-3.6,-7.7,-14.6,-1.1,-8.7,-4.6,
1.7,-12.1,-7.4,-14.3,-4.3,-9.0,-16.9,-1.2,-10.6,-7.6,
-3.3,-15.9,-7.2,-10.1,-5.8,-20.2,-2.4,-10.7,-7.8,-13.3,
-12.3,-9.5,-15.0,-4.9,-9.8,-17.4,-7.2,-11.6,-12.9,-5.1
];

// Axis ranges and tick values (IDL-style boxed axes, ticks on all four sides)
const P1_X_RANGE = [0, 71.5];
const P1_Y_RANGE = [3157310, 3196230];
const P1_X_MAJOR = [20, 40, 60];
const P1_X_MINOR = [5, 10, 15, 25, 30, 35, 45, 50, 55, 65, 70];
const P1_Y_MAJOR = [3160000, 3170000, 3180000, 3190000];
const P1_Y_MINOR = [3158000, 3159000,
  3161000, 3162000, 3163000, 3164000, 3165000, 3166000, 3167000, 3168000, 3169000,
  3171000, 3172000, 3173000, 3174000, 3175000, 3176000, 3177000, 3178000, 3179000,
  3181000, 3182000, 3183000, 3184000, 3185000, 3186000, 3187000, 3188000, 3189000,
  3191000, 3192000, 3193000, 3194000, 3195000, 3196000];
const P2_X_RANGE = [0.05, 36];
const P2_Y_RANGE = [0, 1200];
const P2_X_MAJOR = [0.1, 1, 10];
const P2_X_MINOR = [0.06, 0.07, 0.08, 0.09, 0.2, 0.3, 0.4, 0.5, 0.6, 0.7, 0.8, 0.9, 2, 3, 4, 5, 6, 7, 8, 9, 20, 30];
const P2_Y_MAJOR = [200, 400, 600, 800, 1000];
const P2_Y_MINOR = [50, 100, 150, 250, 300, 350, 450, 500, 550, 650, 700, 750, 850, 900, 950, 1050, 1100, 1150];
const P3_X_RANGE = [0, 1];
const P3_Y_RANGE = [0.994, 1.006];
const P3_X_MAJOR = [0.2, 0.4, 0.6, 0.8];
const P3_X_MINOR = [0.05, 0.10, 0.15, 0.25, 0.30, 0.35, 0.45, 0.50, 0.55, 0.65, 0.70, 0.75, 0.85, 0.90, 0.95];
const P3_Y_MAJOR = [0.996, 0.998, 1.000, 1.002, 1.004];
const P3_Y_MINOR = [0.9945, 0.9950, 0.9955, 0.9965, 0.9970, 0.9975, 0.9985, 0.9990, 0.9995,
  1.0005, 1.0010, 1.0015, 1.0025, 1.0030, 1.0035, 1.0045, 1.0050, 1.0055];

// ---------------- CHART ----------------
const SANS = '"Liberation Sans", Arial, Helvetica, sans-serif';
const SERIF = '"Liberation Serif", "Times New Roman", serif';
const INK = '#000';
const MAJOR_LEN = 11, MINOR_LEN = 5;

const lcData = LC_TIME.map((t, i) => [t, LC_FLUX_ZERO + LC_FLUX_UNIT * LC_FLUX[i]]);
const pgData = PERIOD.map((p, i) => [p, POWER[i]]);
const phData = PHASE.map((p, i) => [p, 1 + REL_FLUX_DEV[i] * 1e-4]);

const GRIDS = [
  {left: 259, top: 68, width: 361, height: 506},
  {left: 935, top: 68, width: 361, height: 506},
  {left: 1611, top: 68, width: 360, height: 506}
];

// frame items: [x, y, kind, length, x2, y2]; kind 9 = box, 0 bottom, 1 top, 2 left, 3 right
function frameData(xr, yr, xMaj, xMin, yMaj, yMin) {
  const d = [[xr[0], yr[0], 9, 0, xr[1], yr[1]]];
  xMaj.forEach(v => { d.push([v, yr[0], 0, MAJOR_LEN, 0, 0]); d.push([v, yr[1], 1, MAJOR_LEN, 0, 0]); });
  xMin.forEach(v => { d.push([v, yr[0], 0, MINOR_LEN, 0, 0]); d.push([v, yr[1], 1, MINOR_LEN, 0, 0]); });
  yMaj.forEach(v => { d.push([xr[0], v, 2, MAJOR_LEN, 0, 0]); d.push([xr[1], v, 3, MAJOR_LEN, 0, 0]); });
  yMin.forEach(v => { d.push([xr[0], v, 2, MINOR_LEN, 0, 0]); d.push([xr[1], v, 3, MINOR_LEN, 0, 0]); });
  return d;
}
function renderFrame(params, api) {
  const kind = api.value(2);
  if (kind === 9) {
    const a = api.coord([api.value(0), api.value(1)]);
    const b = api.coord([api.value(4), api.value(5)]);
    return {type: 'rect', silent: true,
      shape: {x: Math.min(a[0], b[0]), y: Math.min(a[1], b[1]), width: Math.abs(b[0] - a[0]), height: Math.abs(b[1] - a[1])},
      style: {fill: 'none', stroke: INK, lineWidth: 4}};
  }
  const p = api.coord([api.value(0), api.value(1)]);
  const len = api.value(3);
  let q;
  if (kind === 0) q = [p[0], p[1] - len];
  else if (kind === 1) q = [p[0], p[1] + len];
  else if (kind === 2) q = [p[0] + len, p[1]];
  else q = [p[0] - len, p[1]];
  return {type: 'line', silent: true, shape: {x1: p[0], y1: p[1], x2: q[0], y2: q[1]}, style: {stroke: INK, lineWidth: 3.5}};
}
function frameSeries(xIdx, yIdx, data) {
  return {type: 'custom', xAxisIndex: xIdx, yAxisIndex: yIdx, clip: false, silent: true, z: 6,
    dimensions: ['x', 'y', 'kind', 'len', 'x2', 'y2'], encode: {x: 0, y: 1},
    data: data, renderItem: renderFrame};
}

function frameAxis(extra) {
  const base = {
    splitLine: {show: false},
    axisLine: {show: true, onZero: false, lineStyle: {color: INK, width: 4}},
    axisTick: {show: true, inside: true, length: MAJOR_LEN, lineStyle: {color: INK, width: 3.5}},
    minorTick: {show: false},
    axisLabel: {show: false},
    nameTextStyle: {fontFamily: SANS, fontSize: 45, color: INK},
    silent: true
  };
  return Object.assign(base, extra);
}
function minor(n) {
  return {show: true, splitNumber: n, length: MINOR_LEN, lineStyle: {color: INK, width: 3.5}};
}
const tickFont = {fontFamily: SANS, fontSize: 42, color: INK};

const xAxes = [
  frameAxis({gridIndex: 0, type: 'value', position: 'bottom', min: P1_X_RANGE[0], max: P1_X_RANGE[1], interval: 20,
    minorTick: minor(4),
    axisLabel: Object.assign({show: true, margin: 24, showMaxLabel: false, showMinLabel: true,
      formatter: v => String(v)}, tickFont),
    name: 'times- 2228 (d)', nameLocation: 'middle', nameGap: 71}),
  frameAxis({gridIndex: 0, type: 'value', position: 'top', min: P1_X_RANGE[0], max: P1_X_RANGE[1], interval: 20, minorTick: minor(4)}),
  frameAxis({gridIndex: 1, type: 'log', logBase: 10, position: 'bottom', min: P2_X_RANGE[0], max: P2_X_RANGE[1],
    axisLabel: Object.assign({show: true, margin: 24, showMinLabel: false, showMaxLabel: false,
      formatter: v => Number(v).toFixed(1)}, tickFont),
    name: 'Period', nameLocation: 'middle', nameGap: 71}),
  frameAxis({gridIndex: 1, type: 'log', logBase: 10, position: 'top', min: P2_X_RANGE[0], max: P2_X_RANGE[1]}),
  frameAxis({gridIndex: 2, type: 'value', position: 'bottom', min: P3_X_RANGE[0], max: P3_X_RANGE[1], interval: 0.2,
    minorTick: minor(4),
    axisLabel: Object.assign({show: true, margin: 24, formatter: v => Number(v).toFixed(1)}, tickFont),
    name: 'phase', nameLocation: 'middle', nameGap: 71}),
  frameAxis({gridIndex: 2, type: 'value', position: 'top', min: P3_X_RANGE[0], max: P3_X_RANGE[1], interval: 0.2, minorTick: minor(4)})
];

const yAxes = [
  frameAxis({gridIndex: 0, type: 'value', position: 'left', min: P1_Y_RANGE[0], max: P1_Y_RANGE[1], splitNumber: 4,
    minorTick: minor(10),
    axisLabel: {show: true, margin: 25, showMinLabel: false, showMaxLabel: false,
      formatter: v => {
        const m = (v / 1e6).toFixed(2);
        const k = (m === '3.16') ? 's' : 't';
        return '{' + k + '|' + m + '×10}{' + k + 'e|6}';
      },
      rich: {
        t: {fontFamily: SERIF, fontSize: 42, lineHeight: 54, color: INK},
        te: {fontFamily: SERIF, fontSize: 28, lineHeight: 28, verticalAlign: 'top', color: INK},
        s: {fontFamily: SANS, fontSize: 40, lineHeight: 54, color: INK},
        se: {fontFamily: SANS, fontSize: 27, lineHeight: 27, verticalAlign: 'top', color: INK}
      }},
    name: 'flux', nameLocation: 'middle', nameGap: 210}),
  frameAxis({gridIndex: 0, type: 'value', position: 'right', min: P1_Y_RANGE[0], max: P1_Y_RANGE[1], splitNumber: 4, minorTick: minor(10)}),
  frameAxis({gridIndex: 1, type: 'value', position: 'left', min: P2_Y_RANGE[0], max: P2_Y_RANGE[1], interval: 200,
    minorTick: minor(4),
    axisLabel: Object.assign({show: true, margin: 17, lineHeight: 30,
      verticalAlignMinLabel: 'bottom', verticalAlignMaxLabel: 'top',
      formatter: v => String(v)}, tickFont),
    name: 'Power', nameLocation: 'middle', nameGap: 145}),
  frameAxis({gridIndex: 1, type: 'value', position: 'right', min: P2_Y_RANGE[0], max: P2_Y_RANGE[1], interval: 200, minorTick: minor(4)}),
  frameAxis({gridIndex: 2, type: 'value', position: 'left', min: P3_Y_RANGE[0], max: P3_Y_RANGE[1], interval: 0.002,
    minorTick: minor(4),
    axisLabel: Object.assign({show: true, margin: 14, lineHeight: 30,
      verticalAlignMinLabel: 'bottom', verticalAlignMaxLabel: 'top',
      formatter: v => Number(v).toFixed(3)}, tickFont),
    name: 'relative flux', nameLocation: 'middle', nameGap: 156}),
  frameAxis({gridIndex: 2, type: 'value', position: 'right', min: P3_Y_RANGE[0], max: P3_Y_RANGE[1], interval: 0.002, minorTick: minor(4)})
];

const option = {
  animation: false,
  grid: GRIDS,
  xAxis: xAxes,
  yAxis: yAxes,
  series: [
    {type: 'scatter', xAxisIndex: 0, yAxisIndex: 0, data: lcData, symbol: 'rect', symbolSize: 3,
      itemStyle: {color: INK}, silent: true, clip: true},
    {type: 'line', xAxisIndex: 2, yAxisIndex: 2, data: pgData, showSymbol: false, symbol: 'none',
      lineStyle: {color: INK, width: 3}, silent: true, clip: true},
    {type: 'scatter', xAxisIndex: 4, yAxisIndex: 4, data: phData, symbol: 'rect', symbolSize: 3,
      itemStyle: {color: INK}, silent: true, clip: true},
    frameSeries(0, 0, frameData(P1_X_RANGE, P1_Y_RANGE, P1_X_MAJOR, P1_X_MINOR, P1_Y_MAJOR, P1_Y_MINOR)),
    frameSeries(2, 2, frameData(P2_X_RANGE, P2_Y_RANGE, P2_X_MAJOR, P2_X_MINOR, P2_Y_MAJOR, P2_Y_MINOR)),
    frameSeries(4, 4, frameData(P3_X_RANGE, P3_Y_RANGE, P3_X_MAJOR, P3_X_MINOR, P3_Y_MAJOR, P3_Y_MINOR))
  ],
  graphic: [
    {type: 'text', silent: true, x: 1115, y: 31,
      style: {text: TITLE_MAIN, fontFamily: SANS, fontSize: 56, fill: INK, align: 'center', verticalAlign: 'middle'}},
    {type: 'text', silent: true, x: 1798, y: 31,
      style: {text: TITLE_PERIOD, fontFamily: SANS, fontSize: 56, fill: INK, align: 'center', verticalAlign: 'middle'}},
    {type: 'text', silent: true, x: 317, y: 130,
      style: {text: '{a|(V-K)}{b|0}{a|= ' + VK_VALUE + '}', align: 'left', verticalAlign: 'middle',
        rich: {
          a: {fontFamily: SANS, fontSize: 36, lineHeight: 42, verticalAlign: 'top', fill: INK},
          b: {fontFamily: SANS, fontSize: 23, lineHeight: 23, verticalAlign: 'bottom', fill: INK}
        }}}
  ]
};

const chart = echarts.init(document.getElementById('chart'), null, {renderer: 'canvas', width: 2005, height: 694, devicePixelRatio: 1});
chart.setOption(option);
</script>
</body>
</html>
